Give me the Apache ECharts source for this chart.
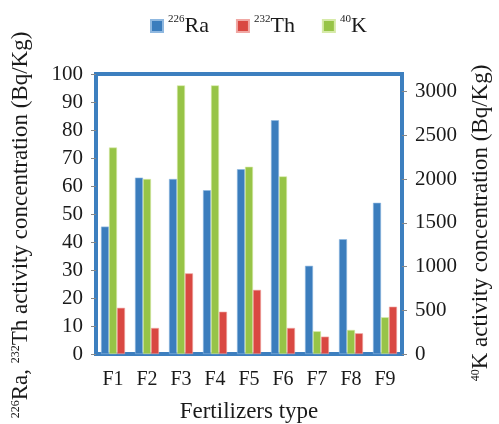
<!DOCTYPE html>
<html><head><meta charset="utf-8">
<script src="https://cdn.jsdelivr.net/npm/echarts@6/dist/echarts.min.js"></script>
<style>html,body{margin:0;padding:0;background:#fff}#c{width:499px;height:424px}</style>
</head><body><div id="c"></div>
<script>
const categories = ['F1','F2','F3','F4','F5','F6','F7','F8','F9'];
const ra226 = [45.5, 63, 62.5, 58.5, 66, 83.5, 31.5, 41, 54];
const th232 = [16.5, 9.3, 28.8, 15.1, 22.9, 9.3, 6.2, 7.4, 16.9];
const k40 = [2360, 2000, 3070, 3070, 2140, 2030, 260, 275, 420];
const leftTicks = [0, 100, 10];
const rightTicks = [0, 3200, 500];

const font = 'Liberation Serif';
const ink = '#1a1a1a';
const supStyle = {fontFamily: font, fontSize: 12, color: ink, verticalAlign: 'top', lineHeight: 14};
const chart = echarts.init(document.getElementById('c'));
chart.setOption({
  animation: false,
  textStyle: {fontFamily: font},
  legend: {
    top: 9, left: 145, itemWidth: 12, itemHeight: 12, itemGap: 27,
    icon: 'rect',
    data: ['Ra', 'Th', 'K'],
    formatter: function(n){ return {Ra:'{sup|226}{t|Ra}', Th:'{sup|232}{t|Th}', K:'{sup|40}{t|K}'}[n]; },
    textStyle: {rich: {
      sup: {fontFamily: font, fontSize: 11, color: ink, verticalAlign: 'top', lineHeight: 13},
      t: {fontFamily: font, fontSize: 22, color: ink, lineHeight: 24}
    }}
  },
  grid: {left: 96, right: 97, top: 74, bottom: 70, show: true, borderColor: '#3d7fbf', borderWidth: 4,
         containLabel: false, outerBoundsMode: 'none'},
  xAxis: {
    type: 'category', data: categories,
    axisLine: {show: false}, axisTick: {show: false},
    axisLabel: {fontFamily: font, fontSize: 20, color: ink, margin: 16},
    name: 'Fertilizers type', nameLocation: 'middle', nameGap: 46,
    nameTextStyle: {fontFamily: font, fontSize: 23, color: ink}
  },
  yAxis: [{
    type: 'value', min: leftTicks[0], max: leftTicks[1], interval: leftTicks[2],
    splitLine: {show: false},
    axisLine: {show: true, lineStyle: {color: '#3d7fbf', width: 4}},
    axisTick: {show: true, length: 5, lineStyle: {color: '#888'}},
    axisLabel: {fontFamily: font, fontSize: 21, color: ink, margin: 13},
    name: '{sup|226}{t|Ra, }{sup|232}{t|Th activity concentration (Bq/Kg)}', nameLocation: 'middle', nameGap: 64,
    nameTextStyle: {padding: [0, 22, 0, 0], rich: {sup: supStyle, t: {fontFamily: font, fontSize: 23, color: ink, lineHeight: 22}}}
  }, {
    type: 'value', min: rightTicks[0], max: rightTicks[1], interval: rightTicks[2],
    splitLine: {show: false},
    axisLine: {show: false},
    axisTick: {show: true, length: 5, lineStyle: {color: '#888'}},
    axisLabel: {fontFamily: font, fontSize: 21, color: ink, margin: 13, showMaxLabel: false,
      formatter: function(v){ return String(v); }},
    name: '{sup|40}{t|K activity concentration (Bq/Kg)}', nameLocation: 'middle', nameGap: 68, nameRotate: 90,
    nameTextStyle: {padding: [0, 18, 0, 0], rich: {sup: supStyle, t: {fontFamily: font, fontSize: 23, color: ink, lineHeight: 22}}}
  }],
  series: [
    {name: 'Ra', type: 'bar', data: ra226, yAxisIndex: 0, barWidth: 8, barGap: '0%',
     itemStyle: {color: '#3b7dbd', borderColor: '#8fb8e0', borderWidth: 0.6}},
    {name: 'K', type: 'bar', data: k40, yAxisIndex: 1, barWidth: 8, barGap: '0%',
     itemStyle: {color: '#97c447', borderColor: '#d6eaa8', borderWidth: 0.6}},
    {name: 'Th', type: 'bar', data: th232, yAxisIndex: 0, barWidth: 8, barGap: '0%',
     itemStyle: {color: '#d94842', borderColor: '#f0a8a4', borderWidth: 0.6}}
  ]
});
</script></body></html>
